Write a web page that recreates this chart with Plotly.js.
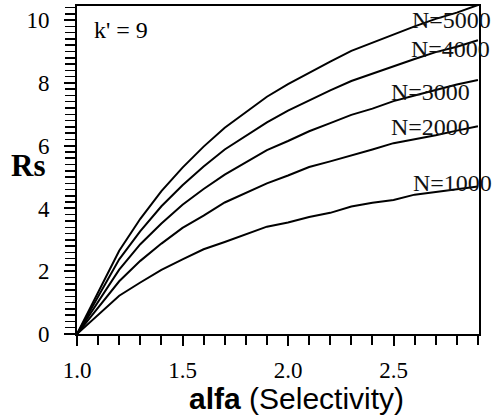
<!DOCTYPE html>
<html>
<head>
<meta charset="utf-8">
<script src="https://cdn.plot.ly/plotly-3.0.1.min.js"></script>
<style>html,body{margin:0;padding:0;background:#fff;}#chart{width:493px;height:418px;}</style>
</head>
<body>
<div id="chart"></div>
<script>
var alfa = [1.0,1.2,1.3,1.4,1.5,1.6,1.7,1.8,1.9,2.0,2.1,2.2,2.3,2.4,2.5,2.6,2.7,2.8,2.9];
var rsN1000 = [0,1.22,1.64,2.04,2.38,2.70,2.93,3.18,3.42,3.55,3.73,3.86,4.06,4.18,4.27,4.44,4.52,4.62,4.70];
var rsN2000 = [0,1.68,2.33,2.88,3.38,3.77,4.19,4.50,4.80,5.05,5.32,5.50,5.68,5.88,6.08,6.20,6.33,6.48,6.62];
var rsN3000 = [0,2.05,2.86,3.52,4.12,4.62,5.08,5.48,5.86,6.15,6.46,6.72,6.98,7.18,7.42,7.60,7.78,7.95,8.09];
var rsN4000 = [0,2.38,3.28,4.07,4.74,5.34,5.88,6.32,6.74,7.12,7.45,7.76,8.06,8.30,8.54,8.76,8.98,9.15,9.36];
var rsN5000 = [0,2.65,3.67,4.55,5.30,5.97,6.57,7.07,7.56,7.96,8.33,8.68,9.02,9.28,9.55,9.80,10.04,10.24,10.48];
var seriesNames = ["N=1000","N=2000","N=3000","N=4000","N=5000"];
var seriesValues = [rsN1000,rsN2000,rsN3000,rsN4000,rsN5000];
var labelX = [2.585,2.48,2.48,2.575,2.58];
var labelY = [4.82,6.60,7.72,9.09,10.0];
var xTickVals = [1.0,1.5,2.0,2.5];
var xTickText = ["1.0","1.5","2.0","2.5"];
var yTickVals = [0,2,4,6,8,10];
var yTickText = ["0","2","4","6","8","10"];

var serif = 'Liberation Serif';
var sans = 'Liberation Sans';

var traces = seriesValues.map(function(v, i){
  return {x: alfa, y: v, type: 'scatter', mode: 'lines', name: seriesNames[i],
          line: {color: '#000', width: 2}, hoverinfo: 'skip'};
});

var annotations = seriesNames.map(function(n, i){
  return {x: labelX[i], y: labelY[i], xref: 'x', yref: 'y', text: n, showarrow: false,
          xanchor: 'left', yanchor: 'middle', font: {family: serif, size: 24, color: '#111'}};
});
annotations.push({x: 1.072, y: 9.68, xref: 'x', yref: 'y', text: "k' = 9", showarrow: false,
  xanchor: 'left', yanchor: 'middle', font: {family: serif, size: 24, color: '#000'}});
annotations.push({x: -0.122, y: 0.515, xref: 'paper', yref: 'paper', text: "<b>Rs</b>", showarrow: false,
  xanchor: 'center', yanchor: 'middle', font: {family: serif, size: 31, color: '#000'}});
annotations.push({x: 0.545, y: -0.198, xref: 'paper', yref: 'paper', text: "<b>alfa</b> (Selectivity)", showarrow: false,
  xanchor: 'center', yanchor: 'middle', font: {family: sans, size: 30, color: '#000'}});

var layout = {
  width: 493, height: 418,
  margin: {l: 77, r: 14, t: 6, b: 84},
  paper_bgcolor: '#fff', plot_bgcolor: '#fff',
  showlegend: false,
  font: {family: serif, color: '#000'},
  xaxis: {range: [1.0, 2.905], tickvals: xTickVals, ticktext: xTickText,
          showgrid: false, zeroline: false, showline: true, linecolor: '#000', linewidth: 2, mirror: true,
          ticks: 'outside', ticklen: 10, tickwidth: 2, tickcolor: '#000',
          minor: {dtick: 0.1, tick0: 1.0, ticks: 'outside', ticklen: 9, tickwidth: 2, tickcolor: '#000', showgrid: false},
          tickfont: {family: serif, size: 23, color: '#000'}, ticklabelstandoff: 4},
  yaxis: {range: [0, 10.45], tickvals: yTickVals, ticktext: yTickText,
          showgrid: false, zeroline: false, showline: true, linecolor: '#000', linewidth: 2, mirror: true,
          ticks: 'outside', ticklen: 11, tickwidth: 2, tickcolor: '#000',
          minor: {dtick: 0.2, tick0: 0, ticks: 'outside', ticklen: 10, tickwidth: 1.5, tickcolor: '#000', showgrid: false},
          tickfont: {family: serif, size: 23, color: '#000'}, ticklabelstandoff: 10},
  annotations: annotations
};
Plotly.newPlot('chart', traces, layout, {staticPlot: true, displayModeBar: false});
</script>
</body>
</html>
